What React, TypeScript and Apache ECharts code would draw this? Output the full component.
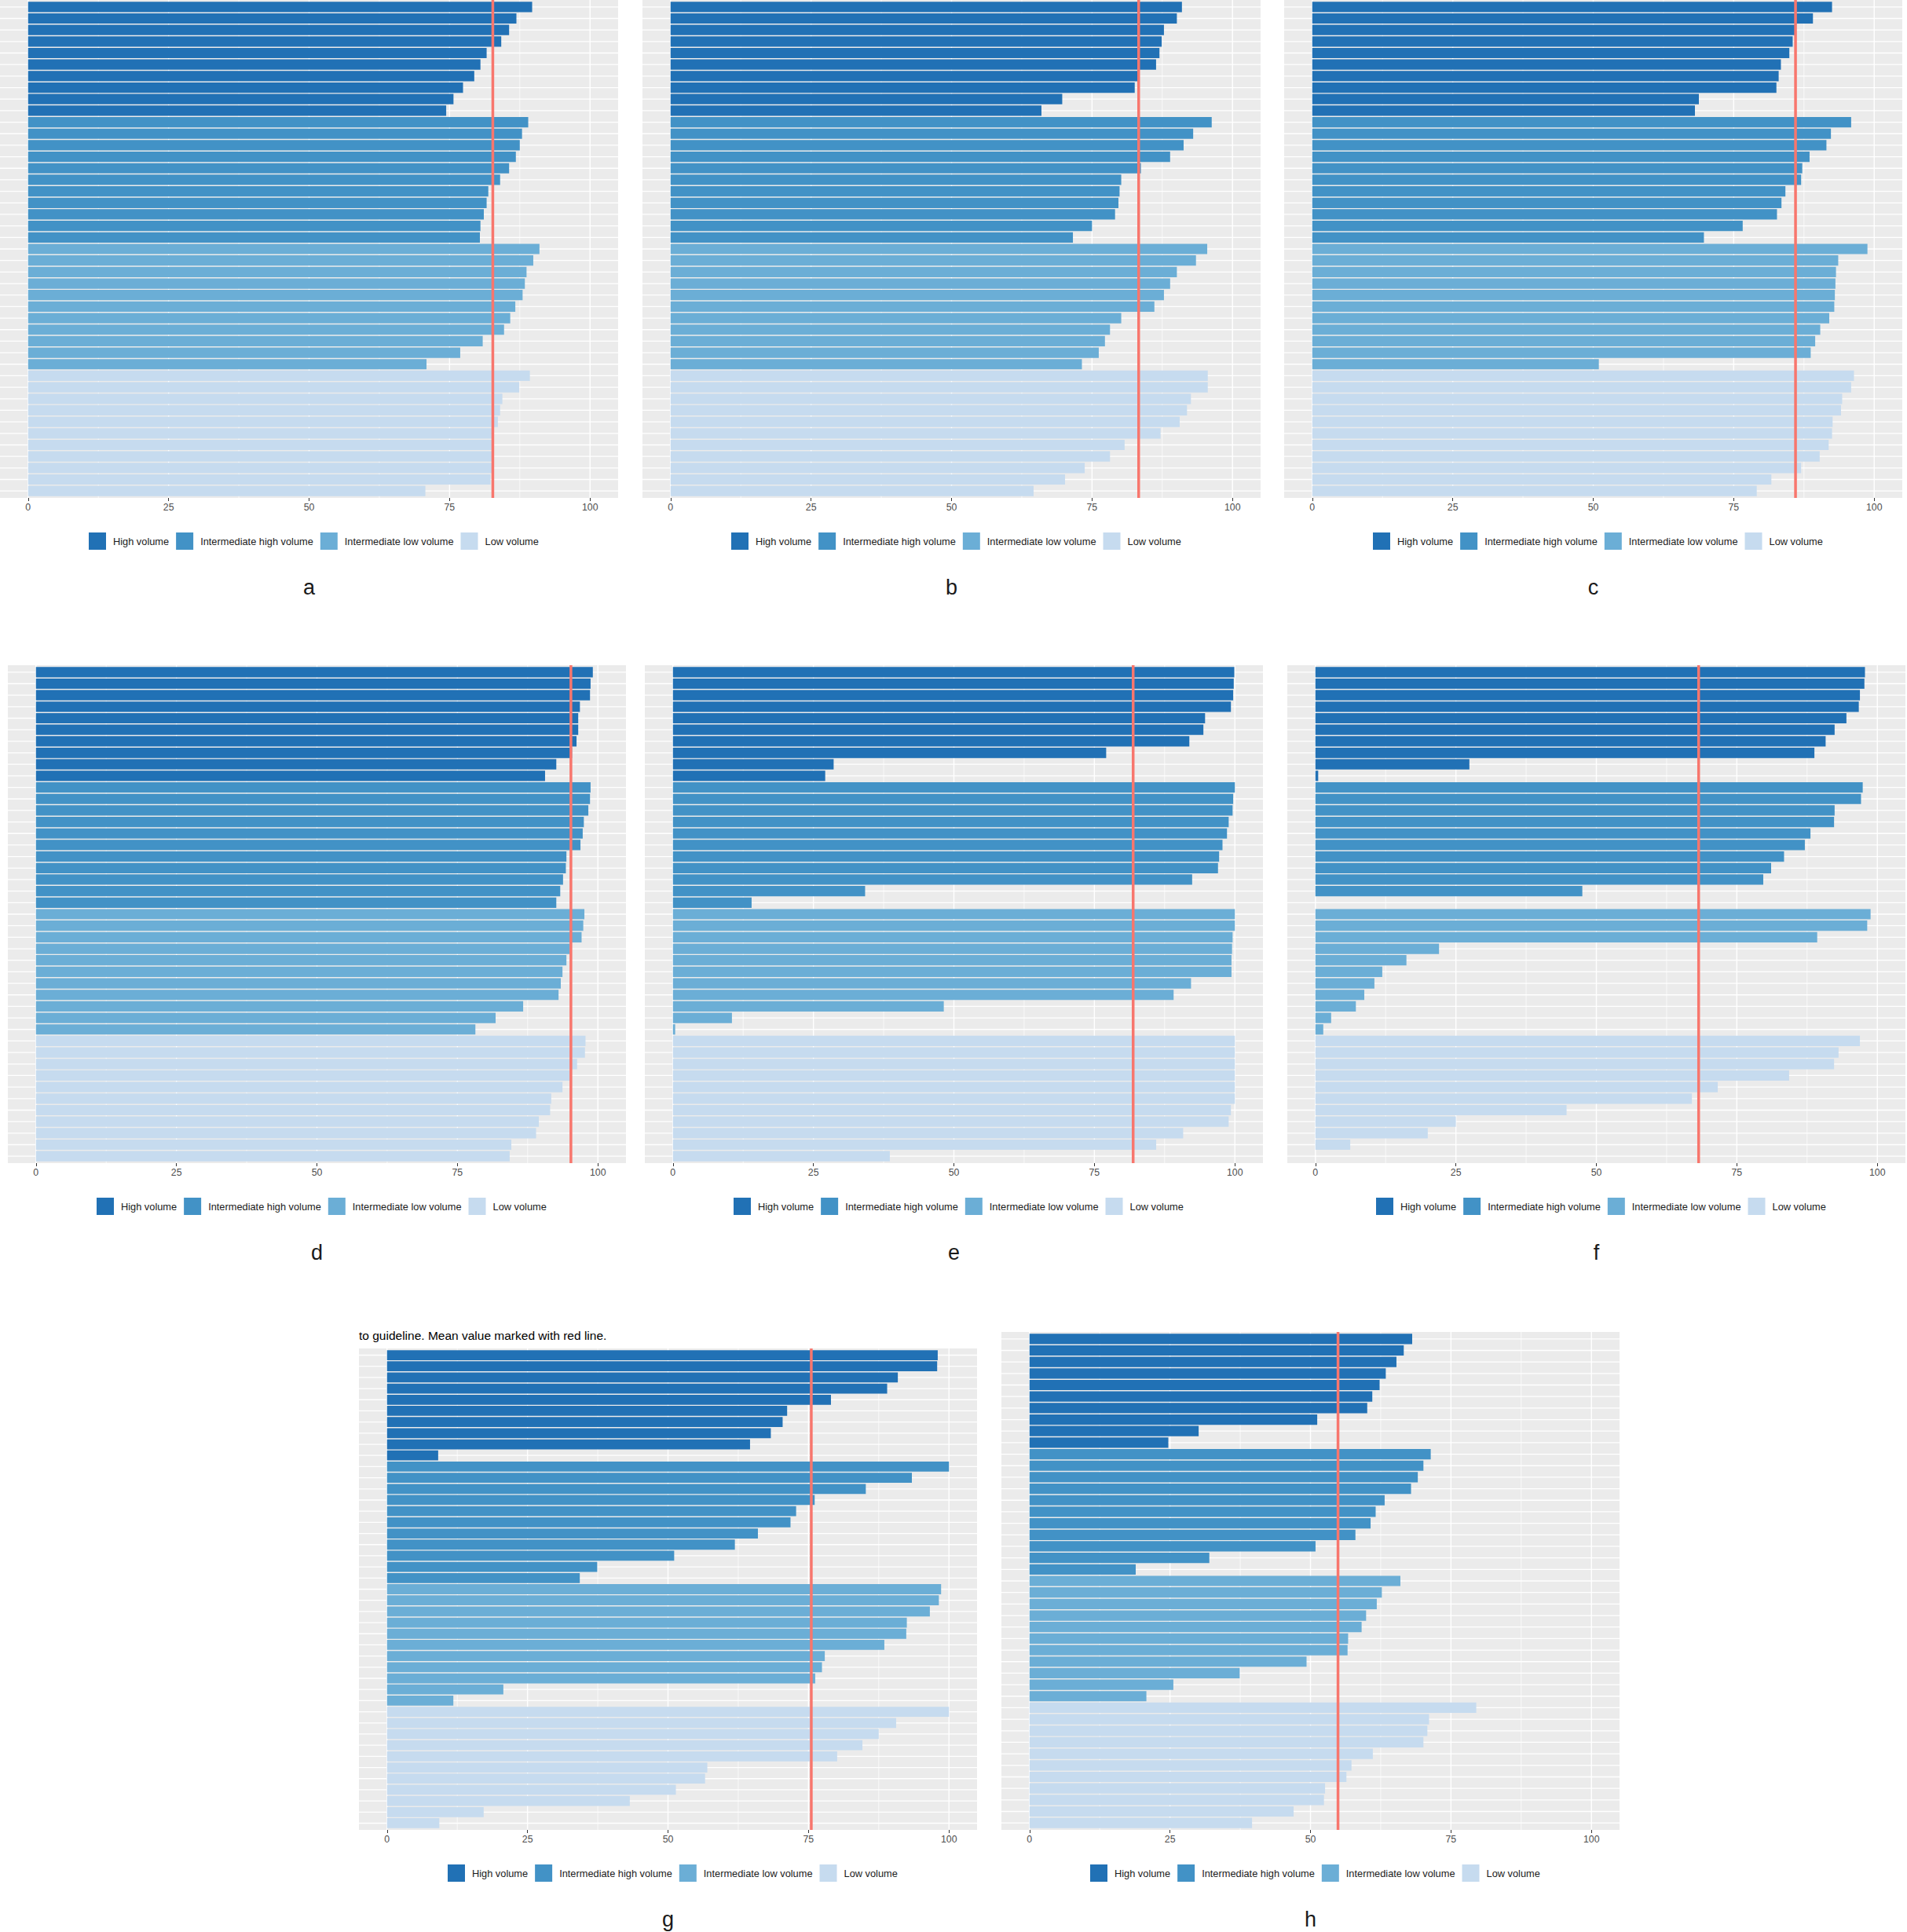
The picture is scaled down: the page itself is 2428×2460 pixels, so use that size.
import React, { useEffect, useRef } from 'react';
import * as echarts from 'echarts';

// ---------- data ----------
const groups = ['High volume', 'Intermediate high volume', 'Intermediate low volume', 'Low volume'];
const xTicks = [0, 25, 50, 75, 100];
const xGridValues = [0, 12.5, 25, 37.5, 50, 62.5, 75, 87.5, 100];
const panelLetters = ['a', 'b', 'c', 'd', 'e', 'f', 'g', 'h'];
const titleText = 'to guideline. Mean value marked with red line.';

const valuesA = [
  [89.7, 86.9, 85.6, 84.2, 81.6, 80.5, 79.4, 77.4, 75.7, 74.4],
  [89.0, 87.9, 87.5, 86.8, 85.6, 84.0, 81.9, 81.6, 81.1, 80.5, 80.4],
  [91.0, 89.9, 88.7, 88.4, 88.0, 86.7, 85.8, 84.7, 80.9, 76.9, 70.9],
  [89.3, 87.4, 84.4, 84.0, 83.6, 82.8, 82.7, 82.7, 82.6, 82.3, 70.7],
];
const valuesB = [
  [91.0, 90.1, 87.8, 87.4, 87.0, 86.4, 83.1, 82.6, 69.7, 66.0],
  [96.3, 93.0, 91.3, 88.9, 83.7, 80.2, 79.9, 79.7, 79.1, 75.0, 71.6],
  [95.5, 93.5, 90.1, 88.9, 87.8, 86.1, 80.2, 78.2, 77.3, 76.2, 73.2],
  [95.6, 95.6, 92.6, 91.9, 90.6, 87.2, 80.8, 78.2, 73.7, 70.2, 64.6],
];
const valuesC = [
  [92.5, 89.1, 85.9, 85.5, 84.9, 83.4, 83.0, 82.6, 68.8, 68.1],
  [95.9, 92.3, 91.5, 88.5, 87.2, 87.0, 84.2, 83.5, 82.7, 76.6, 69.7],
  [98.8, 93.6, 93.2, 93.1, 93.0, 92.9, 92.0, 90.4, 89.5, 88.7, 51.0],
  [96.4, 95.9, 94.3, 94.1, 92.6, 92.5, 91.9, 90.3, 87.0, 81.7, 79.1],
];
const valuesD = [
  [99.1, 98.7, 98.6, 96.8, 96.5, 96.5, 96.2, 95.4, 92.6, 90.6],
  [98.7, 98.6, 98.3, 97.5, 97.3, 96.9, 94.4, 94.3, 93.8, 93.3, 92.6],
  [97.6, 97.4, 97.1, 95.0, 94.4, 93.7, 93.4, 93.0, 86.7, 81.8, 78.2],
  [97.8, 97.7, 96.3, 95.0, 93.7, 91.7, 91.5, 89.5, 89.0, 84.6, 84.3],
];
const valuesE = [
  [99.9, 99.8, 99.7, 99.3, 94.7, 94.4, 91.9, 77.1, 28.6, 27.1],
  [100, 99.7, 99.6, 98.9, 98.6, 97.8, 97.2, 97.0, 92.4, 34.2, 14.0],
  [100, 100, 99.6, 99.5, 99.4, 99.4, 92.2, 89.1, 48.2, 10.5, 0.4],
  [100, 100, 100, 100, 100, 100, 99.3, 98.9, 90.8, 86.0, 38.6],
];
const valuesF = [
  [97.8, 97.7, 96.9, 96.7, 94.5, 92.4, 90.8, 88.8, 27.4, 0.5],
  [97.4, 97.1, 92.4, 92.3, 88.1, 87.1, 83.4, 81.1, 79.7, 47.5, 0],
  [98.8, 98.2, 89.3, 22.0, 16.2, 11.9, 10.5, 8.7, 7.2, 2.8, 1.4],
  [96.9, 93.1, 92.3, 84.3, 71.6, 67.0, 44.7, 25.0, 20.0, 6.2, 0],
];
const valuesG = [
  [98.0, 97.9, 90.9, 89.0, 79.0, 71.2, 70.4, 68.3, 64.6, 9.1],
  [100, 93.4, 85.2, 76.1, 72.8, 71.8, 66.0, 61.9, 51.1, 37.4, 34.3],
  [98.6, 98.2, 96.6, 92.5, 92.4, 88.5, 77.9, 77.4, 76.2, 20.7, 11.8],
  [100, 90.6, 87.5, 84.6, 80.1, 57.0, 56.6, 51.4, 43.2, 17.2, 9.3],
];
const valuesH = [
  [68.1, 66.6, 65.3, 63.4, 62.3, 61.0, 60.1, 51.2, 30.1, 24.7],
  [71.4, 70.1, 69.1, 67.9, 63.2, 61.6, 60.7, 58.0, 50.9, 32.0, 18.9],
  [66.0, 62.7, 61.8, 59.9, 59.1, 56.7, 56.6, 49.3, 37.4, 25.6, 20.8],
  [79.5, 71.1, 70.8, 70.1, 61.1, 57.3, 56.4, 52.6, 52.4, 47.0, 39.6],
];
const meanValues = [82.7, 83.3, 86.0, 95.2, 81.9, 68.2, 75.5, 54.9];

const panelValues = [valuesA, valuesB, valuesC, valuesD, valuesE, valuesF, valuesG, valuesH];

// ---------- styles / layout ----------
const COLORS = ['#2171B5', '#4292C6', '#6BAED6', '#C6DBEF'];
const MEAN_COLOR = '#F8766D';
const FONT = '"Liberation Sans", Arial, Helvetica, sans-serif';
const LAYOUT = [
  { left: 0, top: 0, width: 787, height: 634 },
  { left: 818, top: 0, width: 787, height: 634 },
  { left: 1635, top: 0, width: 787, height: 634 },
  { left: 10, top: 847, width: 787, height: 634 },
  { left: 821, top: 847, width: 787, height: 634 },
  { left: 1639, top: 847, width: 787, height: 634 },
  { left: 457, top: 1717, width: 787, height: 613 },
  { left: 1275, top: 1696, width: 787, height: 634 },
];

function buildOption() {
  const grid: any[] = [];
  const xAxis: any[] = [];
  const yAxis: any[] = [];
  const series: any[] = [];
  const legend: any[] = [];
  const graphic: any[] = [];

  panelValues.forEach((vals, p) => {
    const L = LAYOUT[p];
    const nCats = vals.reduce((s, a) => s + a.length, 0);
    grid.push({
      left: L.left,
      top: L.top,
      width: L.width,
      height: L.height,
      show: true,
      backgroundColor: '#EBEBEB',
      borderWidth: 0,
      containLabel: false,
    });
    xAxis.push({
      gridIndex: p,
      type: 'value',
      min: -5,
      max: 105,
      axisLine: { show: false },
      splitLine: { show: false },
      axisTick: { show: true, customValues: xTicks, length: 4, lineStyle: { color: '#333333', width: 1 } },
      axisLabel: { customValues: xTicks, color: '#4D4D4D', fontSize: 12.3, margin: 6, fontFamily: FONT },
    });
    yAxis.push({
      gridIndex: p,
      type: 'value',
      min: 0.4,
      max: nCats + 0.6,
      inverse: true,
      show: false,
    });

    // vertical grid lines
    series.push({
      type: 'custom',
      xAxisIndex: p,
      yAxisIndex: p,
      silent: true,
      z: 1,
      encode: { x: 0, y: 1 },
      data: xGridValues.map((v) => [v, 1]),
      renderItem: (params: any, api: any) => {
        const cs = params.coordSys;
        const v = api.value(0);
        const x = api.coord([v, 1])[0];
        const major = v % 25 === 0;
        return {
          type: 'line',
          shape: { x1: x, y1: cs.y, x2: x, y2: cs.y + cs.height },
          style: { stroke: '#FFFFFF', lineWidth: major ? 1.4 : 0.7 },
        };
      },
    });
    // horizontal grid lines (one per category)
    const cats: number[][] = [];
    for (let k = 1; k <= nCats; k++) cats.push([0, k]);
    series.push({
      type: 'custom',
      xAxisIndex: p,
      yAxisIndex: p,
      silent: true,
      z: 1,
      encode: { x: 0, y: 1 },
      data: cats,
      renderItem: (params: any, api: any) => {
        const cs = params.coordSys;
        const y = api.coord([0, api.value(1)])[1];
        return {
          type: 'line',
          shape: { x1: cs.x, y1: y, x2: cs.x + cs.width, y2: y },
          style: { stroke: '#FFFFFF', lineWidth: 1.3 },
        };
      },
    });

    // bars
    let offset = 0;
    vals.forEach((arr, g) => {
      const start = offset;
      series.push({
        type: 'custom',
        name: groups[g],
        xAxisIndex: p,
        yAxisIndex: p,
        silent: true,
        z: 2,
        itemStyle: { color: COLORS[g] },
        encode: { x: 0, y: 1 },
        data: arr.map((v, i) => [v, start + i + 1]),
        renderItem: (params: any, api: any) => {
          const v = api.value(0);
          const y = api.value(1);
          const s = api.coord([0, y]);
          const e = api.coord([v, y]);
          const h = Math.abs(api.size([0, 0.9])[1]);
          return {
            type: 'rect',
            shape: { x: s[0], y: s[1] - h / 2, width: Math.max(0, e[0] - s[0]), height: h },
            style: { fill: api.visual('color') },
          };
        },
      });
      offset += arr.length;
    });

    // mean line
    series.push({
      type: 'custom',
      xAxisIndex: p,
      yAxisIndex: p,
      silent: true,
      z: 3,
      encode: { x: 0, y: 1 },
      data: [[meanValues[p], 1]],
      renderItem: (params: any, api: any) => {
        const cs = params.coordSys;
        const x = api.coord([api.value(0), 1])[0];
        return {
          type: 'line',
          shape: { x1: x, y1: cs.y, x2: x, y2: cs.y + cs.height },
          style: { stroke: MEAN_COLOR, lineWidth: 3.5 },
        };
      },
    });

    legend.push({
      data: groups,
      left: L.left + 108,
      top: L.top + L.height + 39,
      orient: 'horizontal',
      icon: 'rect',
      itemWidth: 22,
      itemHeight: 22,
      itemGap: 9,
      selectedMode: false,
      itemStyle: { borderWidth: 0 },
      textStyle: { fontSize: 12.8, color: '#1A1A1A', fontFamily: FONT, padding: [0, 0, 0, 4] },
    });

    graphic.push({
      type: 'text',
      x: L.left + L.width / 2,
      y: L.top + L.height + 114,
      style: {
        text: panelLetters[p],
        fontSize: 27,
        fill: '#1A1A1A',
        fontFamily: FONT,
        align: 'center',
        verticalAlign: 'middle',
      },
    });
  });

  graphic.push({
    type: 'text',
    x: LAYOUT[6].left,
    y: LAYOUT[6].top - 17,
    style: {
      text: titleText,
      fontSize: 15.5,
      fill: '#000000',
      fontFamily: FONT,
      align: 'left',
      verticalAlign: 'middle',
    },
  });

  return {
    animation: false,
    backgroundColor: '#FFFFFF',
    grid,
    xAxis,
    yAxis,
    series,
    legend,
    graphic,
  };
}

export default function App() {
  const ref = useRef<HTMLDivElement>(null);
  useEffect(() => {
    document.body.style.margin = '0';
    const chart = echarts.init(ref.current as HTMLDivElement, null, { renderer: 'svg' });
    chart.setOption(buildOption() as any);
    return () => {
      chart.dispose();
    };
  }, []);
  return <div ref={ref} style={{ width: 2428, height: 2460 }} />;
}
